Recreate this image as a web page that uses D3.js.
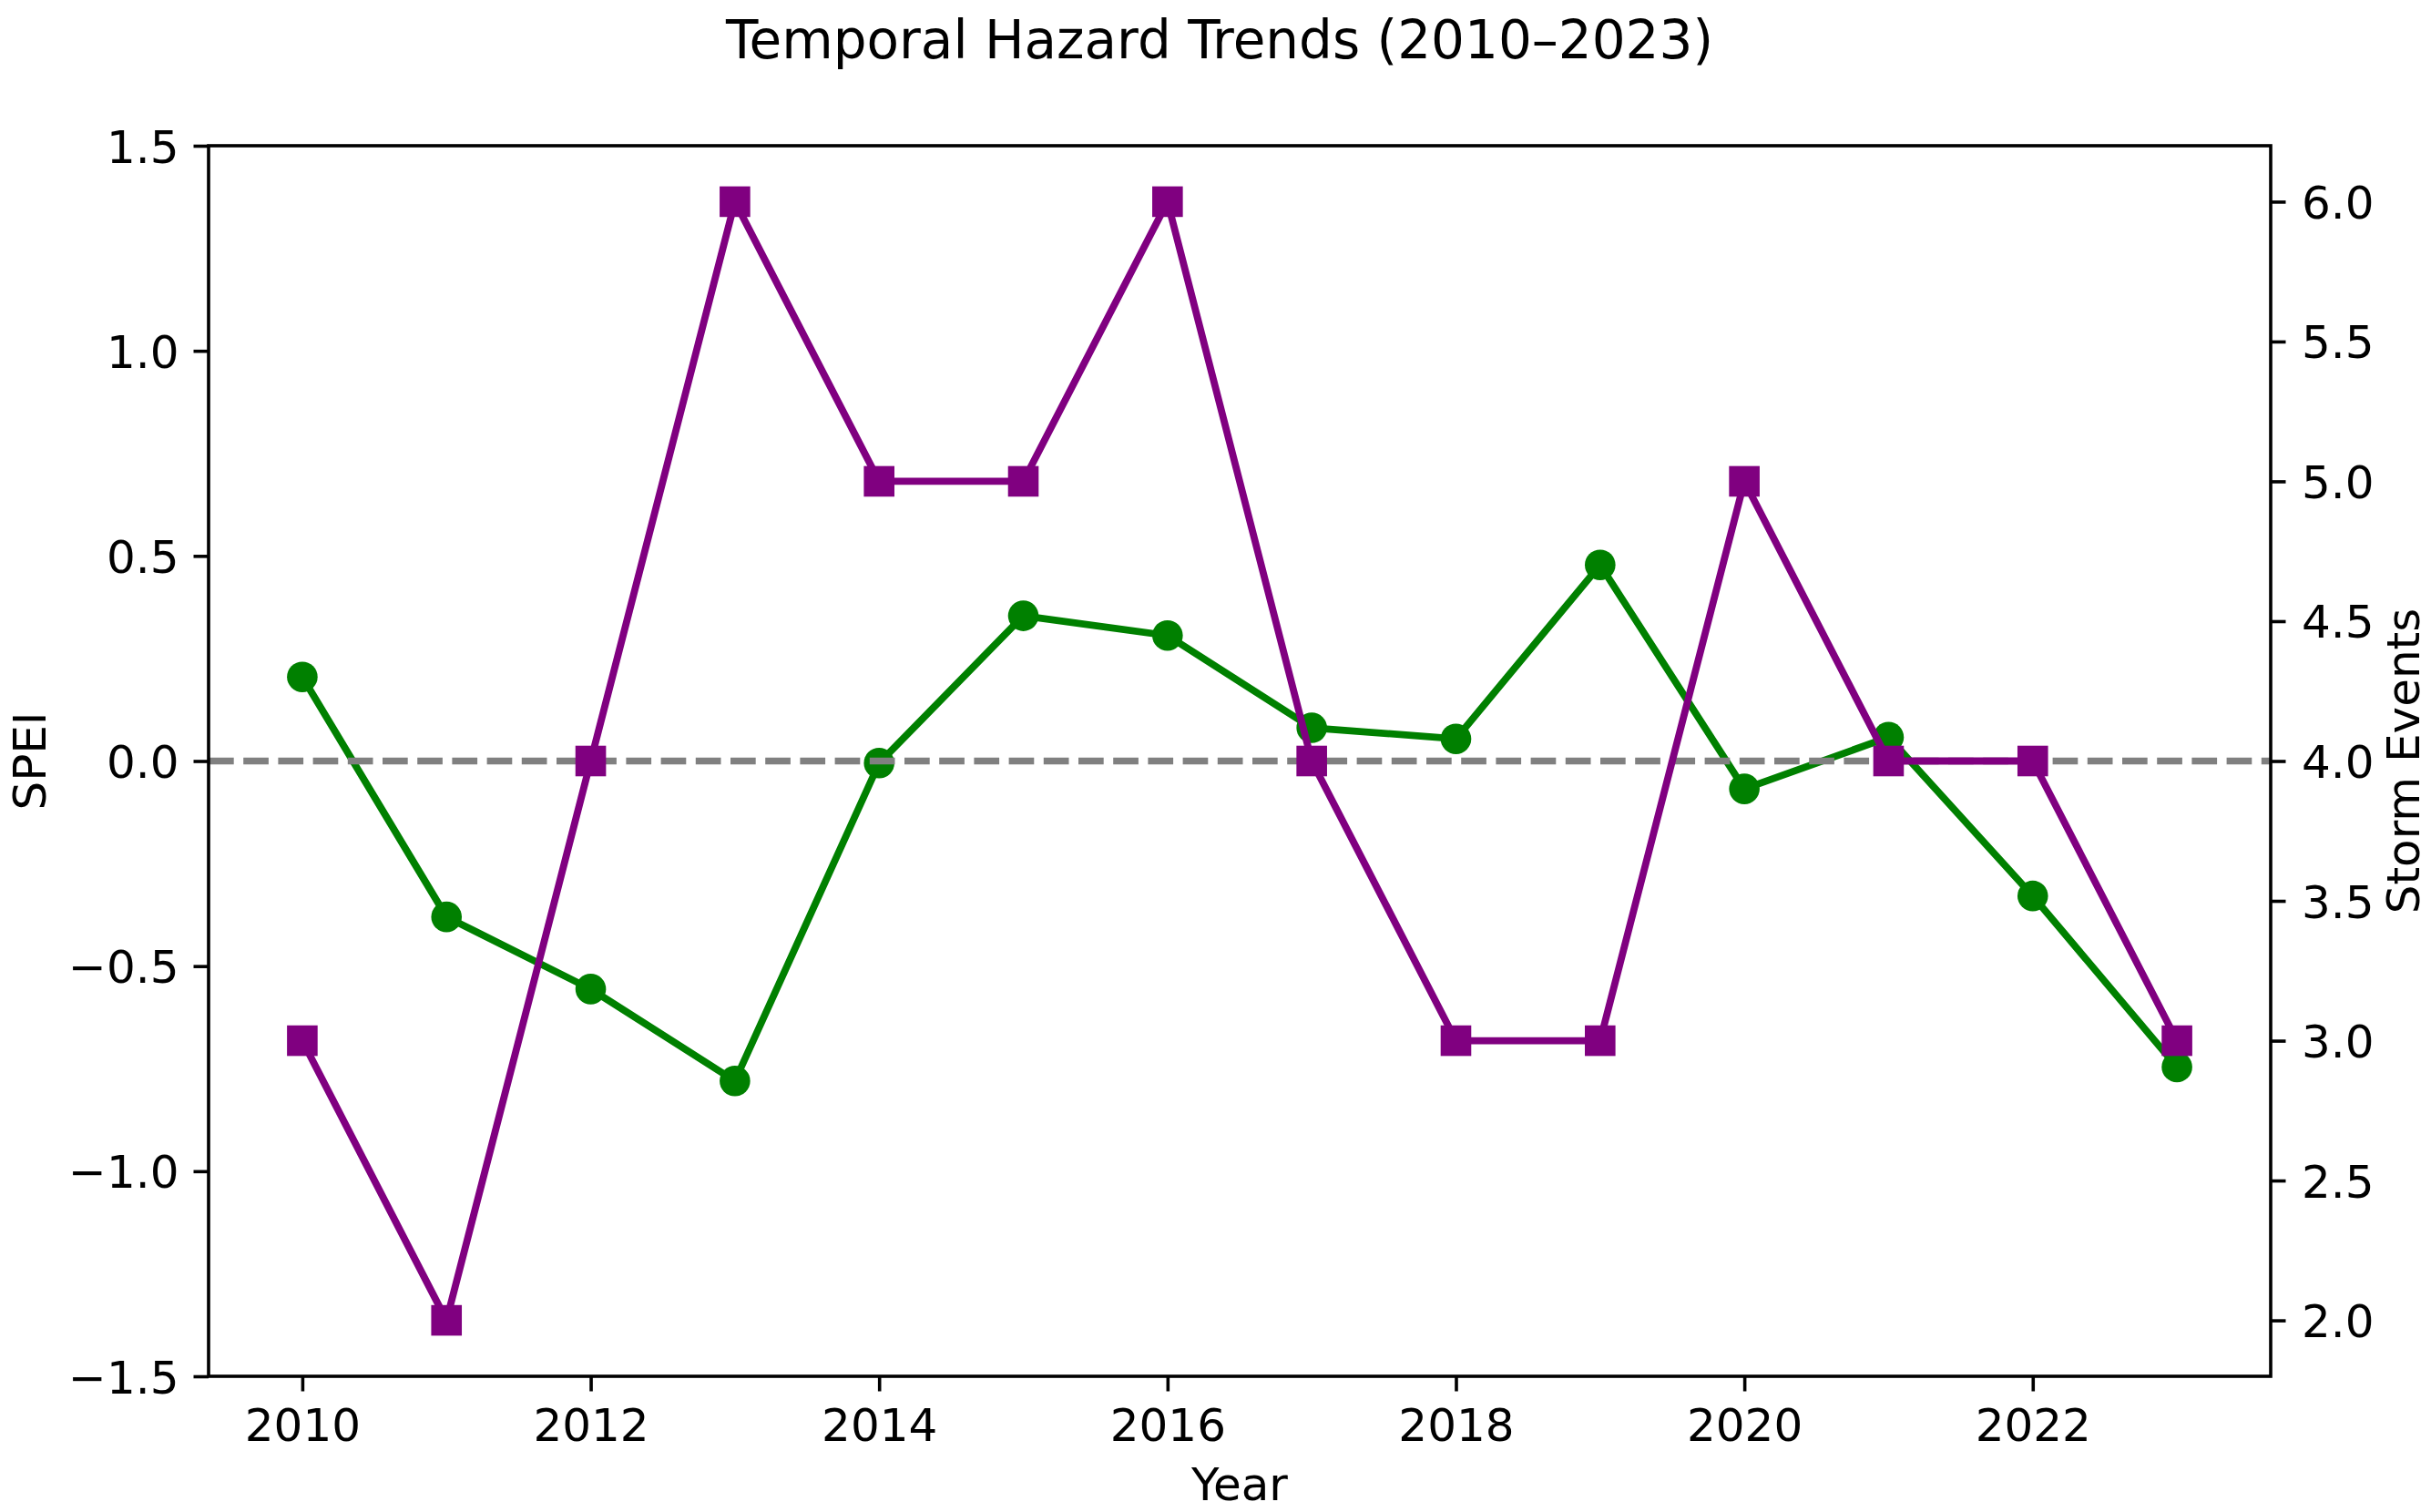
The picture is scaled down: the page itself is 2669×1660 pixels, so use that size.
<!DOCTYPE html>
<html>
<head>
<meta charset="utf-8">
<script src="https://cdn.jsdelivr.net/npm/d3@7"></script>
<style>
  html, body { margin: 0; padding: 0; background: #fff; }
  svg { display: block; font-family: "DejaVu Sans", sans-serif; }
</style>
</head>
<body>
<svg id="chart" width="2669" height="1660"></svg>
<script>
// ---- data ----
const years = [2010, 2011, 2012, 2013, 2014, 2015, 2016, 2017, 2018, 2019, 2020, 2021, 2022, 2023];
const spei = [0.205, -0.380, -0.556, -0.780, -0.005, 0.354, 0.306, 0.081, 0.054, 0.478, -0.068, 0.058, -0.329, -0.746];
const storms = [3, 2, 4, 6, 5, 5, 6, 4, 3, 3, 5, 4, 4, 3];
const xTicks = [2010, 2012, 2014, 2016, 2018, 2020, 2022];
const leftTicks = [-1.5, -1.0, -0.5, 0.0, 0.5, 1.0, 1.5];
const rightTicks = [2.0, 2.5, 3.0, 3.5, 4.0, 4.5, 5.0, 5.5, 6.0];
const titleText = "Temporal Hazard Trends (2010\u20132023)";
const xLabel = "Year";
const yLeftLabel = "SPEI";
const yRightLabel = "Storm Events";

// ---- layout ----
const L = 229, R = 2493, T = 160, B = 1511;
const svg = d3.select("#chart");

const x = d3.scaleLinear().domain([2009.35, 2023.65]).range([L, R]);
const yL = d3.scaleLinear().domain([-1.5, 1.5]).range([B, T]);
const yR = d3.scaleLinear().domain([1.8, 6.2]).range([B, T]);

const tickLen = 16.5;
const fs = 50;
const fmt = d3.format(".1f");

// axes
const gx = svg.append("g").attr("transform", `translate(0,${B})`)
  .call(d3.axisBottom(x).tickValues(xTicks).tickFormat(d3.format("d")).tickSize(tickLen).tickSizeOuter(0));
const gl = svg.append("g").attr("transform", `translate(${L},0)`)
  .call(d3.axisLeft(yL).tickValues(leftTicks).tickFormat(fmt).tickSize(tickLen).tickSizeOuter(0));
const gr = svg.append("g").attr("transform", `translate(${R},0)`)
  .call(d3.axisRight(yR).tickValues(rightTicks).tickFormat(fmt).tickSize(tickLen).tickSizeOuter(0));

[gx, gl, gr].forEach(g => {
  g.select(".domain").remove();
  g.selectAll(".tick line").attr("stroke", "#000").attr("stroke-width", 3.6);
  g.selectAll(".tick text").attr("fill", "#000")
    .style("font-family", "DejaVu Sans").style("font-size", fs + "px");
});
gx.selectAll(".tick text").attr("y", 71).attr("dy", null);
gl.selectAll(".tick text").attr("x", -32.5).attr("dy", "0.36em");
gr.selectAll(".tick text").attr("x", 34).attr("dy", "0.36em");

const lineL = d3.line().x((d, i) => x(years[i])).y(d => yL(d));
const lineR = d3.line().x((d, i) => x(years[i])).y(d => yR(d));

const plot = svg.insert("g", ":first-child");

plot.append("path").datum(spei)
  .attr("d", lineL).attr("fill", "none").attr("stroke", "green")
  .attr("stroke-width", 7.8).attr("stroke-linejoin", "round");
plot.selectAll("circle.spei").data(spei).enter().append("circle")
  .attr("class", "spei")
  .attr("cx", (d, i) => x(years[i])).attr("cy", d => yL(d))
  .attr("r", 16.8).attr("fill", "green");

plot.append("line")
  .attr("x1", L).attr("x2", R).attr("y1", yL(0)).attr("y2", yL(0))
  .attr("stroke", "gray").attr("stroke-width", 7.7)
  .attr("stroke-dasharray", "27.7,10.5");

plot.append("path").datum(storms)
  .attr("d", lineR).attr("fill", "none").attr("stroke", "purple")
  .attr("stroke-width", 7.8).attr("stroke-linejoin", "round");
const sq = 33.6;
plot.selectAll("rect.storm").data(storms).enter().append("rect")
  .attr("class", "storm")
  .attr("x", (d, i) => x(years[i]) - sq / 2).attr("y", d => yR(d) - sq / 2)
  .attr("width", sq).attr("height", sq).attr("fill", "purple");

// frame
svg.append("rect").attr("x", L).attr("y", T).attr("width", R - L).attr("height", B - T)
  .attr("fill", "none").attr("stroke", "#000").attr("stroke-width", 3.6);

// texts
svg.append("text").attr("x", 1339).attr("y", 64).attr("text-anchor", "middle")
  .style("font-size", "58px").attr("fill", "#000").text(titleText);
svg.append("text").attr("x", (L + R) / 2).attr("y", 1647).attr("text-anchor", "middle")
  .style("font-size", fs + "px").attr("fill", "#000").text(xLabel);
svg.append("text").attr("transform", `translate(50,${(T + B) / 2}) rotate(-90)`)
  .attr("text-anchor", "middle").style("font-size", fs + "px").attr("fill", "#000").text(yLeftLabel);
svg.append("text").attr("transform", `translate(2656,${(T + B) / 2}) rotate(-90)`)
  .attr("text-anchor", "middle").style("font-size", fs + "px").attr("fill", "#000").text(yRightLabel);
</script>
</body>
</html>
